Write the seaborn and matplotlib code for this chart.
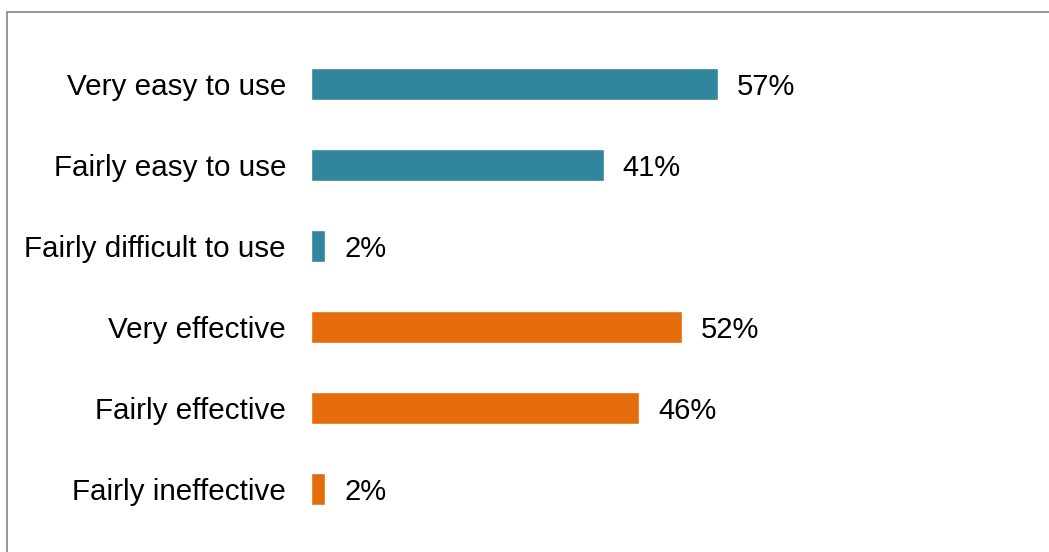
import matplotlib
matplotlib.use("Agg")
import matplotlib.pyplot as plt
from matplotlib.patches import Rectangle
import seaborn as sns
import pandas as pd

categories = [
    "Very easy to use",
    "Fairly easy to use",
    "Fairly difficult to use",
    "Very effective",
    "Fairly effective",
    "Fairly ineffective",
]
values = [57, 41, 2, 52, 46, 2]
groups = ["Ease", "Ease", "Ease", "Effectiveness", "Effectiveness", "Effectiveness"]
palette = {"Ease": "#31859C", "Effectiveness": "#E46C0A"}

df = pd.DataFrame({"category": categories, "value": values, "group": groups})

sns.set_style("white")
plt.rcParams["font.family"] = ["Liberation Sans", "DejaVu Sans"]

W, H = 1049, 552
fig = plt.figure(figsize=(W / 100, H / 100), dpi=100)
ax = fig.add_axes([311 / W, 1 - 529.5 / H, 714 / W, 486 / H])

sns.barplot(
    data=df, x="value", y="category", hue="group", palette=palette,
    dodge=False, width=0.4, legend=False, ax=ax, order=categories,
    saturation=1,
)

ax.set_xlim(0, 100)
ax.set_ylim(5.5, -0.5)
ax.set_xlabel("")
ax.set_ylabel("")
ax.set_xticks([])
ax.tick_params(axis="y", length=0, pad=18, labelsize=21.3, labelcolor="black")
for s in ax.spines.values():
    s.set_visible(False)

for cont in ax.containers:
    texts = ax.bar_label(cont, labels=[f"{v:.0f}%" for v in cont.datavalues],
                         padding=13.5, fontsize=21, color="black")
    for t in texts:
        t.set_verticalalignment("center_baseline")

# outer frame, open on the right and bottom
fig.patches.append(Rectangle((7 / W, -0.2), 1.3, 1.2 - 12 / H,
                             transform=fig.transFigure, fill=False,
                             edgecolor="#8f8f8f", linewidth=1.3))

fig.savefig("out.png", dpi=100, facecolor="white")
